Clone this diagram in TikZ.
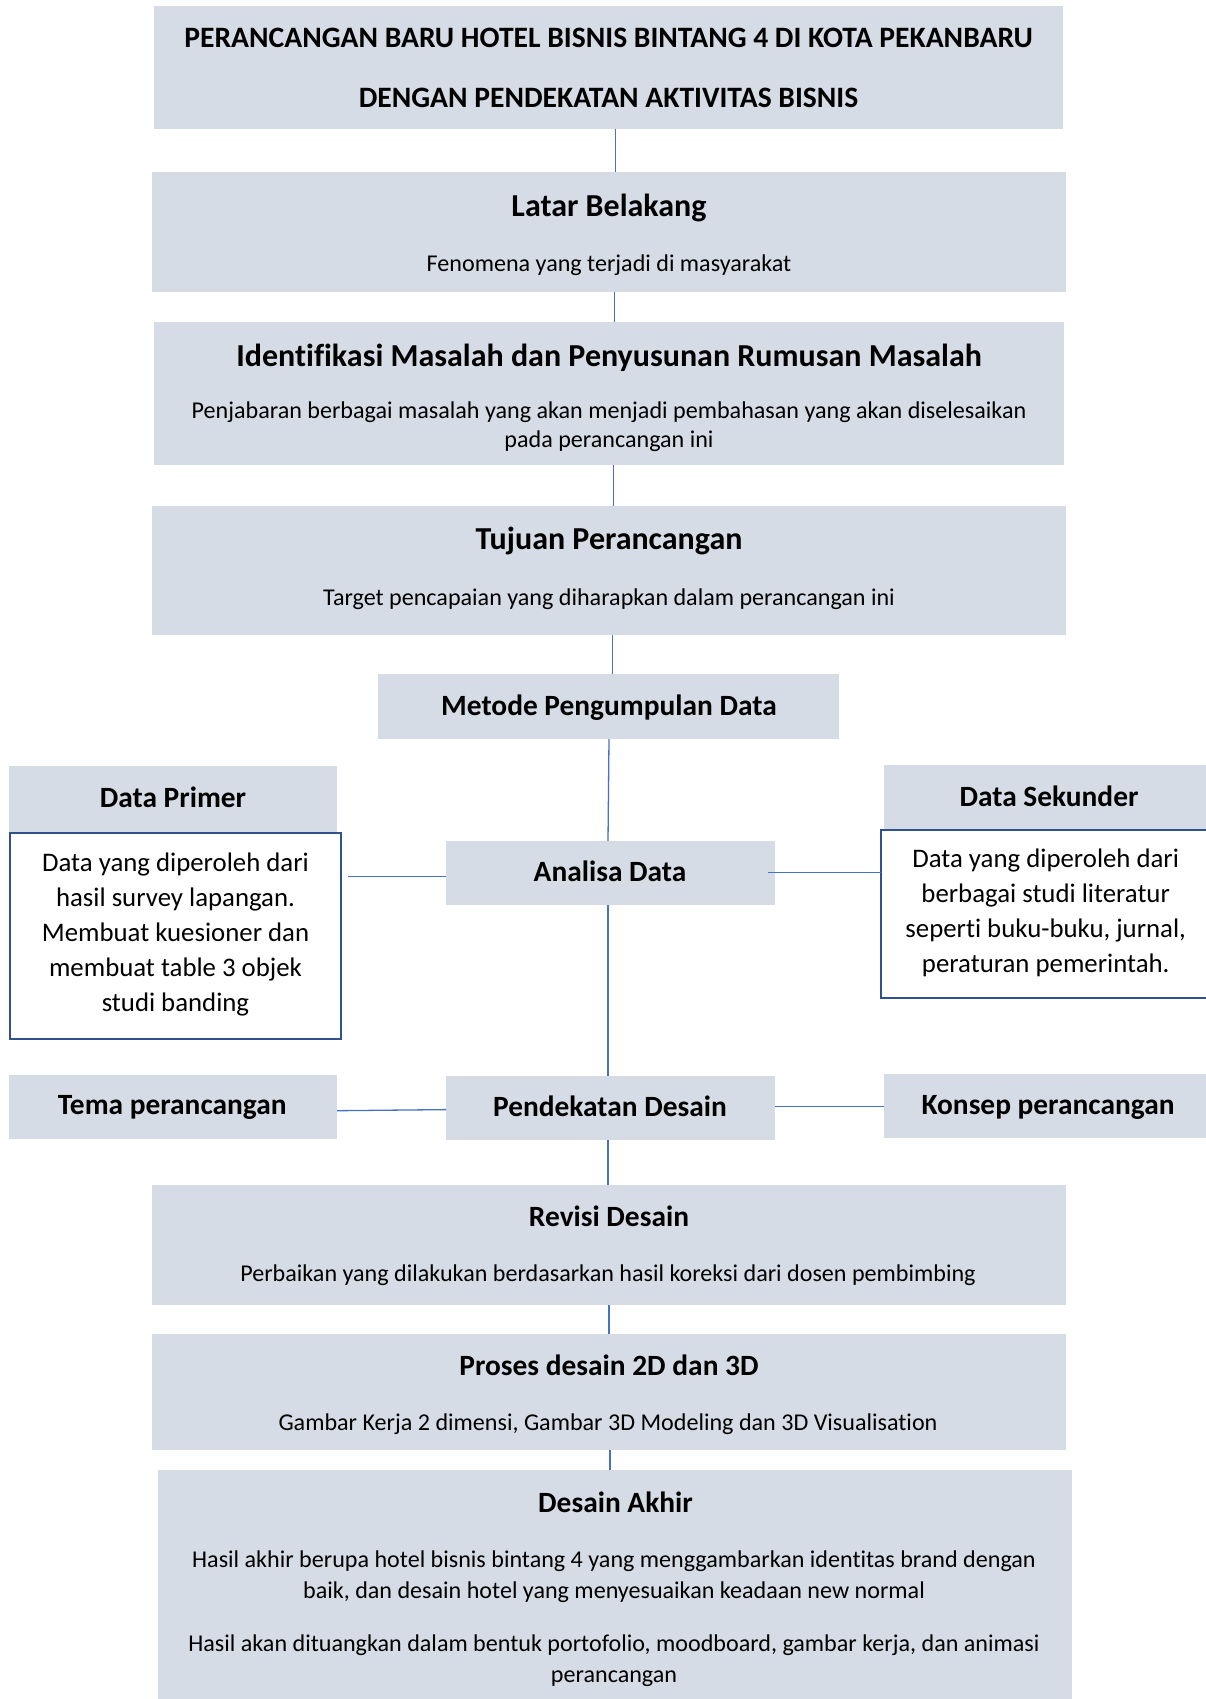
\documentclass[tikz,border=0pt]{standalone}
\usepackage{fontspec}
\usepackage{graphicx}
\setmainfont{Carlito}[Ligatures=CommonOff]
\usetikzlibrary{calc}
\definecolor{boxfill}{HTML}{D6DCE5}
\definecolor{bordc}{HTML}{2F528F}
\definecolor{linec}{HTML}{4472C4}
\newcommand{\fsz}[2]{\fontsize{#1}{#2}\selectfont}
\newcommand{\bx}[6][box]{\node[#1, minimum width={#5-#3}, minimum height={#6-#4}] (#2) at ({(#3+#5)/2},{(#4+#6)/2}) {};}
\begin{document}
\begin{tikzpicture}[x=1pt,y=-1pt,
  box/.style={fill=boxfill, inner sep=0pt, outer sep=0pt, anchor=center},
  wbox/.style={fill=white, draw=bordc, line width=2.2pt, inner sep=0pt, outer sep=0pt, anchor=center},
  conn/.style={draw=linec, line width=1.3pt},
  ttlA/.style={font=\bfseries\fsz{32}{38}, inner sep=0pt, align=center},
  ttlB/.style={font=\bfseries\fsz{29.4}{34}, inner sep=0pt, align=center},
  sub/.style={font=\fsz{24.1}{29}, inner sep=0pt, align=center},
  akh/.style={font=\fsz{24.1}{31}, inner sep=0pt, align=center},
  body/.style={font=\fsz{26.8}{35}, inner sep=0pt, align=center},
  head/.style={font=\bfseries\fsz{29.6}{34}, inner sep=0pt},
]
\useasboundingbox[fill=white] (0,0) rectangle (1206,1699);

% boxes
\bx{title}{154}{6.5}{1063}{129}
\bx{latar}{152}{172}{1066}{291.5}
\bx{ident}{154}{322}{1064}{465}
\bx{tujuan}{152}{506}{1066}{635}
\bx{metode}{378}{674}{839}{739}
\bx{dpH}{9}{766}{337}{832}
\bx[wbox]{dpB}{10}{833}{341}{1039}
\bx{analisa}{446}{841}{775}{905}
\bx{dsH}{884}{765}{1206}{830}
\bx[wbox]{dsB}{881}{830}{1212}{998}
\bx{tema}{9}{1075}{337}{1139}
\bx{pend}{446}{1076}{775}{1140}
\bx{konsep}{884}{1074}{1206}{1138}
\bx{revisi}{152}{1185}{1066}{1305}
\bx{proses}{152}{1334}{1066}{1450}
\bx{akhir}{158}{1470}{1072}{1710}

% texts
\node[head] (t1) at (608.5,38) {PERANCANGAN BARU HOTEL BISNIS BINTANG 4 DI KOTA PEKANBARU};
\node[head] (t2) at (608.5,97.5) {DENGAN PENDEKATAN AKTIVITAS BISNIS};

\node[ttlA] (latarT) at (609,207.5) {Latar Belakang};
\node[sub] (latarS) at (609,265.5) {Fenomena yang terjadi di masyarakat};

\node[ttlA] (identT) at (609,358) {Identifikasi Masalah dan Penyusunan Rumusan Masalah};
\node[sub] (identS) at (609,427) {Penjabaran berbagai masalah yang akan menjadi pembahasan yang akan diselesaikan\\pada perancangan ini};

\node[ttlA] (tujuanT) at (609,541) {Tujuan Perancangan};
\node[sub] (tujuanS) at (609,599.5) {Target pencapaian yang diharapkan dalam perancangan ini};

\node[ttlB] (metodeT) at (609,708) {Metode Pengumpulan Data};

\node[ttlB] (dpT) at (173,797.5) {Data Primer};
\node[body] (dpS) at (175.5,934) {Data yang diperoleh dari\\hasil survey lapangan.\\Membuat kuesioner dan\\membuat table 3 objek\\studi banding};

\node[ttlB] (analisaT) at (610,871) {Analisa Data};

\node[ttlB] (dsT) at (1049,796) {Data Sekunder};
\node[body] (dsS) at (1045.7,913) {Data yang diperoleh dari\\berbagai studi literatur\\seperti buku-buku, jurnal,\\peraturan pemerintah.};

\node[ttlB] (temaT) at (172.3,1107.5) {Tema perancangan};
\node[ttlB] (pendT) at (610,1106) {Pendekatan Desain};
\node[ttlB] (konsepT) at (1048,1107.5) {Konsep perancangan};

\node[ttlB] (revisiT) at (609,1216) {Revisi Desain};
\node[sub] (revisiS) at (608,1275.5) {Perbaikan yang dilakukan berdasarkan hasil koreksi dari dosen pembimbing};

\node[ttlB] (prosesT) at (609,1365) {Proses desain 2D dan 3D};
\node[sub] (prosesS) at (608,1424.5) {Gambar Kerja 2 dimensi, Gambar 3D Modeling dan 3D Visualisation};

\node[ttlB] (akhirT) at (615.5,1502) {Desain Akhir};
\node[akh] (akhirS1) at (614,1577) {Hasil akhir berupa hotel bisnis bintang 4 yang menggambarkan identitas brand dengan\\baik, dan desain hotel yang menyesuaikan keadaan new normal};
\node[akh] (akhirS2) at (614,1661) {Hasil akan dituangkan dalam bentuk portofolio, moodboard, gambar kerja, dan animasi\\perancangan};

% connector coordinates
\coordinate (x1) at (615.5,0);
\coordinate (x2) at (614.4,0);
\coordinate (x3) at (613.3,0);
\coordinate (x4) at (612.2,0);
\coordinate (x5a) at (609,0);
\coordinate (x5b) at (608,0);
\coordinate (x7) at (609,0);
\coordinate (x8) at (610,0);
\coordinate (yP) at (0,876.6);
\coordinate (yS) at (0,872.3);
\coordinate (yT1) at (0,1110.7);
\coordinate (yT2) at (0,1109.6);
\coordinate (yK) at (0,1106.3);

\draw[conn] (title.south -| x1) -- (latar.north -| x1);
\draw[conn] (latar.south -| x2) -- (ident.north -| x2);
\draw[conn] (ident.south -| x3) -- (tujuan.north -| x3);
\draw[conn] (tujuan.south -| x4) -- (metode.north -| x4);
\draw[conn] (metode.south -| x5a) -- (analisa.north -| x5b);
\draw[conn] (analisa.south -| x5b) -- (pend.north -| x5b);
\draw[conn, shorten <=7pt] (dpB.east |- yP) -- (analisa.west |- yP);
\draw[conn, shorten <=-7pt] (analisa.east |- yS) -- (dsB.west |- yS);
\draw[conn] (tema.east |- yT1) -- (pend.west |- yT2);
\draw[conn] (pend.east |- yK) -- (konsep.west |- yK);
\draw[conn] (pend.south -| x5b) -- (revisi.north -| x5b);
\draw[conn] (revisi.south -| x7) -- (proses.north -| x7);
\draw[conn] (proses.south -| x8) -- (akhir.north -| x8);
\end{tikzpicture}
\end{document}
